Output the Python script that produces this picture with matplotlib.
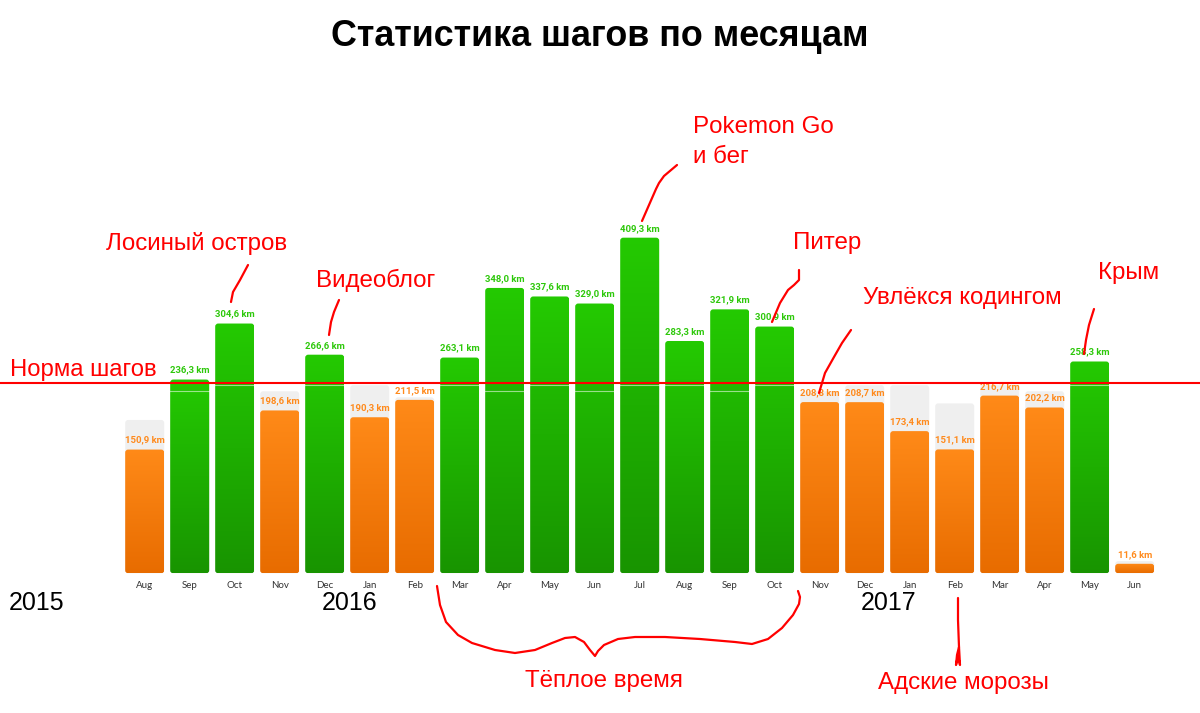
import matplotlib
matplotlib.use("Agg")
import matplotlib.pyplot as plt
import numpy as np
from matplotlib.patches import FancyBboxPatch

# ---------------- data ----------------
months = ['Aug', 'Sep', 'Oct', 'Nov', 'Dec', 'Jan', 'Feb', 'Mar', 'Apr', 'May', 'Jun', 'Jul',
          'Aug', 'Sep', 'Oct', 'Nov', 'Dec', 'Jan', 'Feb', 'Mar', 'Apr', 'May', 'Jun']
distance_km = [150.9, 236.3, 304.6, 198.6, 266.6, 190.3, 211.5, 263.1, 348.0, 337.6, 329.0, 409.3,
               283.3, 321.9, 300.9, 208.8, 208.7, 173.4, 151.1, 216.7, 202.2, 258.3, 11.6]
goal_km = [187.0, 222.0, 229.4, 222.0, 229.4, 229.4, 214.6, 229.4, 222.0, 229.4, 222.0, 229.4,
           229.4, 222.0, 229.4, 222.0, 229.4, 229.4, 207.2, 229.4, 222.0, 229.4, 14.8]
norm_km = 232.0
years = ['2015', '2016', '2017']
title = 'Статистика шагов по месяцам'

# ---------------- layout ----------------
W, H, DPI = 1200, 713, 100
PX_PER_UNIT_X = 45.0
PX_PER_KM = 0.82
BAR0_PX = 144.7
BASE_PX = 573.3

xmin = -BAR0_PX / PX_PER_UNIT_X
xmax = xmin + W / PX_PER_UNIT_X
ymin = -(H - BASE_PX) / PX_PER_KM
ymax = ymin + H / PX_PER_KM

fig = plt.figure(figsize=(W / DPI, H / DPI), dpi=DPI)
fig.patch.set_facecolor('white')
ax = fig.add_axes([0, 0, 1, 1])
ax.set_xlim(xmin, xmax)
ax.set_ylim(ymin, ymax)
ax.axis('off')

def P(px, py):
    """figure-pixel (from top-left) -> figure fraction"""
    return (px / W, 1 - py / H)

bar_w = 39.0 / PX_PER_UNIT_X
r_px = 3.0
r_x = r_px / PX_PER_UNIT_X
aspect = (r_px / PX_PER_KM) / r_x

GREEN_TOP = np.array([36, 202, 2]) / 255
GREEN_BOT = np.array([24, 148, 0]) / 255
ORANGE_TOP = np.array([255, 138, 24]) / 255
ORANGE_BOT = np.array([232, 108, 0]) / 255
GREEN_TXT = '#2DC80A'
ORANGE_TXT = '#FF8A1C'

grad = np.linspace(0, 1, 256)[:, None]

for i, (v, g) in enumerate(zip(distance_km, goal_km)):
    x0 = i - bar_w / 2
    # goal (grey) background bar
    if g > 0:
        gp = FancyBboxPatch((x0, 0), bar_w, g,
                            boxstyle=f"round,pad=0,rounding_size={min(r_x, g / aspect / 2)}",
                            mutation_aspect=aspect, fc='#EFEFEF', ec='none', zorder=1)
        ax.add_patch(gp)
    ok = v >= g
    top_c, bot_c = (GREEN_TOP, GREEN_BOT) if ok else (ORANGE_TOP, ORANGE_BOT)
    patch = FancyBboxPatch((x0, 0), bar_w, v,
                           boxstyle=f"round,pad=0,rounding_size={min(r_x, v / aspect / 2)}",
                           mutation_aspect=aspect, fc='none', ec='none', zorder=2)
    ax.add_patch(patch)
    colors = top_c[None, None, :] * (1 - grad[..., None]) + bot_c[None, None, :] * grad[..., None]
    im = ax.imshow(colors, extent=[x0, x0 + bar_w, 0, v], origin='upper',
                   aspect='auto', zorder=2, interpolation='bilinear')
    im.set_clip_path(patch)
    if ok and g > 0:
        ax.plot([x0, x0 + bar_w], [g, g], color='white', alpha=0.55, lw=0.8, zorder=3)
    # value label
    ax.annotate(f"{v:.1f} km".replace('.', ','), (i, v), xytext=(0, 3.5),
                textcoords='offset points', ha='center', va='bottom',
                fontsize=6.8, fontweight='bold', family=['Roboto', 'DejaVu Sans'],
                color=GREEN_TXT if ok else ORANGE_TXT, zorder=4)
    # month label
    ax.annotate(months[i], (i, 0), xytext=(0, -10.4), textcoords='offset points',
                ha='center', va='baseline', fontsize=7, family=['Lato', 'DejaVu Sans'],
                color='#333333', zorder=4)

# norm line
ax.axhline(norm_km, color='#FF0000', lw=1.5, zorder=5)

# ---------------- texts ----------------
RED = '#FF0000'
ANN_FONT = ['Liberation Sans', 'DejaVu Sans']
fig.text(*P(600, 37), title, ha='center', va='center', fontsize=25.8, fontweight='bold',
         family=ANN_FONT, color='black')

fig.text(*P(10, 370), 'Норма шагов', ha='left', va='center', fontsize=17.2, family=ANN_FONT, color=RED)

# year labels
year_px = [37, 350, 889]
for yl, xp in zip(years, year_px):
    fig.text(*P(xp, 603), yl, ha='center', va='center', fontsize=18, family=ANN_FONT, color='black')

annots = [
    ('Лосиный остров', 197, 243),
    ('Видеоблог', 376, 280),
    ('Pokemon Go\nи бег', 693, 142),
    ('Питер', 827, 243),
    ('Увлёкся кодингом', 962, 298),
    ('Крым', 1129, 273),
    ('Тёплое время', 604, 681),
    ('Адские морозы', 963, 683),
]
for txt, xp, yp in annots:
    ha = 'left' if txt.startswith('Pokemon') else 'center'
    fig.text(*P(xp, yp), txt, ha=ha, va='center', fontsize=17.4, family=ANN_FONT,
             color=RED, linespacing=1.42)

# hand-drawn leader strokes (figure pixels)
strokes = [
    [(248, 265), (240, 280), (233, 292), (231, 302)],
    [(339, 300), (334, 312), (331, 322), (329, 335)],
    [(677, 165), (664, 176), (659, 183), (656, 189), (649, 205), (642, 221)],
    [(799, 270), (799, 280), (794, 285), (788, 290), (780, 303), (772, 322)],
    [(851, 330), (842, 343), (834, 357), (825, 373), (819, 393)],
    [(1094, 309), (1089, 325), (1086, 340), (1084, 354)],
    [(437, 586), (440, 605), (446, 622), (458, 635), (472, 643), (495, 650), (515, 653),
     (535, 650), (552, 643), (565, 638), (575, 637), (584, 642), (590, 650), (595, 656),
     (598, 651), (604, 645), (618, 639), (635, 637), (665, 637), (700, 639), (735, 642),
     (752, 644), (768, 639), (782, 628), (793, 615), (799, 604), (800, 597), (798, 591)],
    [(958, 598), (958, 620), (959, 647), (957, 655), (956, 665), (958, 656), (960, 665), (959, 647)],
]
for s in strokes:
    xs = [p[0] / W for p in s]
    ys = [1 - p[1] / H for p in s]
    fig.add_artist(plt.Line2D(xs, ys, color=RED, lw=1.6, solid_capstyle='round',
                              solid_joinstyle='round', transform=fig.transFigure))

fig.savefig('out.png', dpi=DPI, facecolor='white')
